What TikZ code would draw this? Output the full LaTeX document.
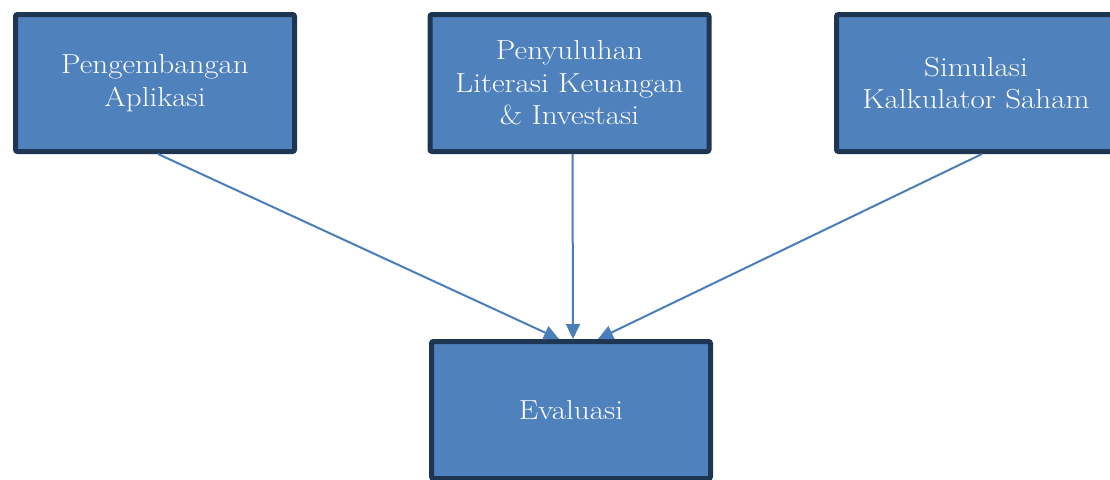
\documentclass[tikz,border=0pt]{standalone}
\usepackage{fontspec}
\usetikzlibrary{arrows.meta}
\newfontfamily\boitefont{Latin Modern Roman}[FakeStretch=1.13]

\tikzset{
	boite/.style={draw=navy, line width=5pt, fill=bleu, rounded corners=2pt,
		minimum width=279pt, minimum height=137pt, inner sep=0pt,
		text=white, align=center, font=\boitefont\fontsize{27.5pt}{32.5pt}\selectfont},
	fleche/.style={-{Triangle[length=15pt,width=14pt]}, line width=2pt, draw=trait}
}
\definecolor{navy}{HTML}{1F3653}
\definecolor{bleu}{HTML}{4F81BD}
\definecolor{trait}{HTML}{4A7EBB}

\begin{document}
\begin{tikzpicture}[x=1pt, y=-1pt, >=stealth]
	\clip (0,0) rectangle (1110,479);
	\useasboundingbox (0,0) rectangle (1110,479);

	% les boites
	\node[boite] (app) at (155,83) {Pengembangan\\Aplikasi};
	\node[boite] (lit) at (569.5,83) {Penyuluhan\\Literasi Keuangan\\\& Investasi};
	\node[boite] (sim) at (976,83) {Simulasi\\Kalkulator Saham};
	\node[boite] (eva) at (571,410) {Evaluasi};

	\coordinate (eA) at ([xshift=-12pt]eva.north);
	\coordinate (eB) at ([xshift=2pt]eva.north);
	\coordinate (eC) at ([xshift=27pt]eva.north);

	% les fleches
	\draw[fleche] ([xshift=3pt]app.south) -- (eA);
	\draw[fleche] ([xshift=3pt]lit.south) -- (eB);
	\draw[fleche] ([xshift=6pt]sim.south) -- (eC);

\end{tikzpicture}
\end{document}
